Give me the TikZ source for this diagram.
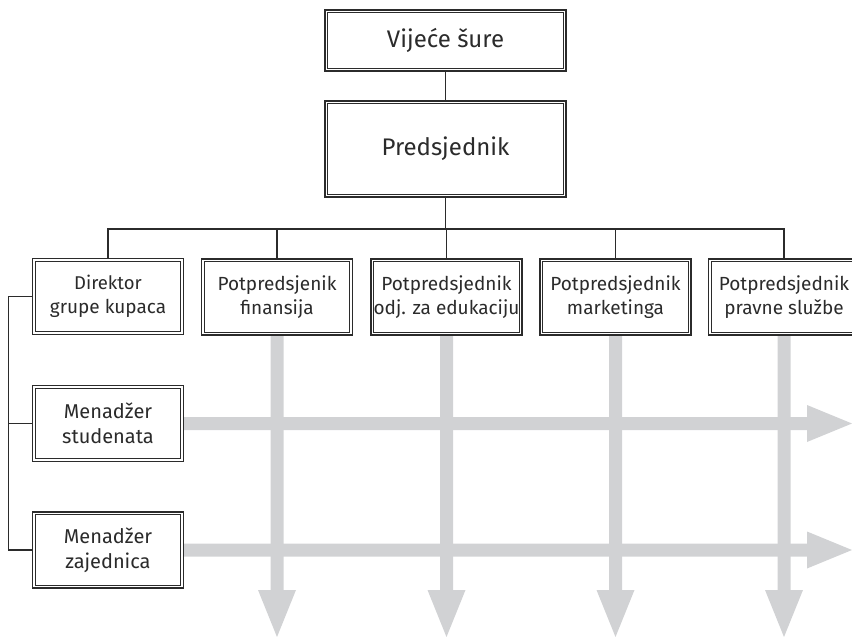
\documentclass[tikz,border=0pt]{standalone}
\usepackage{fontspec}
\setmainfont{Fira Sans}
\definecolor{ink}{HTML}{2B2B2B}
\definecolor{arrowgray}{HTML}{D1D2D4}
\begin{document}
\begin{tikzpicture}[x=1pt,y=-1pt,
  orgbox/.style={draw=ink, line width=1.6pt, fill=white, align=center, text=ink, inner sep=0pt, font=\fontsize{19}{24.5}\selectfont},
  rowbox/.style={orgbox, minimum width=151pt, minimum height=76pt},
  topbox/.style={orgbox, minimum width=241pt, font=\fontsize{24}{29}\selectfont},
  conn/.style={draw=ink, line width=1.2pt},
  gray/.style={fill=arrowgray, draw=none}]
\useasboundingbox (0,0) rectangle (852,637);
\clip (0,0) rectangle (852,637);

% gray arrows (vertical)
\foreach \x in {277,446.5,615.5,784}{
  \fill[arrowgray] (\x-6.5,335) -- (\x+6.5,335) -- (\x+6.5,590) -- (\x+19,590) -- (\x,637) -- (\x-19,590) -- (\x-6.5,590) -- cycle;
}
% gray arrows (horizontal)
\foreach \y in {423.5,550}{
  \fill[arrowgray] (183,\y-6.5) -- (807,\y-6.5) -- (807,\y-18.5) -- (852,\y) -- (807,\y+18.5) -- (807,\y+6.5) -- (183,\y+6.5) -- cycle;
}

% nodes
\node[topbox, minimum height=61pt] (v) at (445.5,40.5) {Vijeće šure};
\node[topbox, minimum height=96pt] (p) at (445.5,149) {Predsjednik};
\node[rowbox] (d1) at (108,296.5) {\fontsize{18.5}{24.5}\selectfont Direktor\\grupe kupaca};
\node[rowbox] (d2) at (277,297) {Potpredsjenik\\finansija};
\node[rowbox] (d3) at (446.5,297) {Potpredsjednik\\odj. za edukaciju};
\node[rowbox] (d4) at (615.5,297) {Potpredsjednik\\marketinga};
\node[rowbox] (d5) at (784,297) {Potpredsjednik\\pravne službe};
\node[rowbox, font=\fontsize{20}{25}\selectfont] (m1) at (108,423.5) {Menadžer\\studenata};
\node[rowbox, font=\fontsize{20}{25}\selectfont] (m2) at (108,550) {Menadžer\\zajednica};

% inner thin borders
\foreach \n in {v,p,d1,d2,d3,d4,d5,m1,m2}{
  \draw[ink, line width=0.8pt] ([shift={(3.5pt,3.5pt)}]\n.south west) rectangle ([shift={(-3.5pt,-3.5pt)}]\n.north east);
}

% connectors
\coordinate (bus) at (445.5,229);
\draw[conn] (v.south) -- (p.north);
\draw[conn] (p.south) -- (bus);
\draw[conn] (d1.north) |- (bus);
\draw[conn] (d2.north) |- (bus);
\draw[conn] (d3.north) |- (bus);
\draw[conn] (d5.north) |- (bus);
\draw[conn] (d4.north) |- (bus);
\coordinate (lft) at (8.5,0);
\draw[conn] (d1.west) -| (lft |- m2.west) -- (m2.west);
\draw[conn] (lft |- m1.west) -- (m1.west);
\end{tikzpicture}
\end{document}
